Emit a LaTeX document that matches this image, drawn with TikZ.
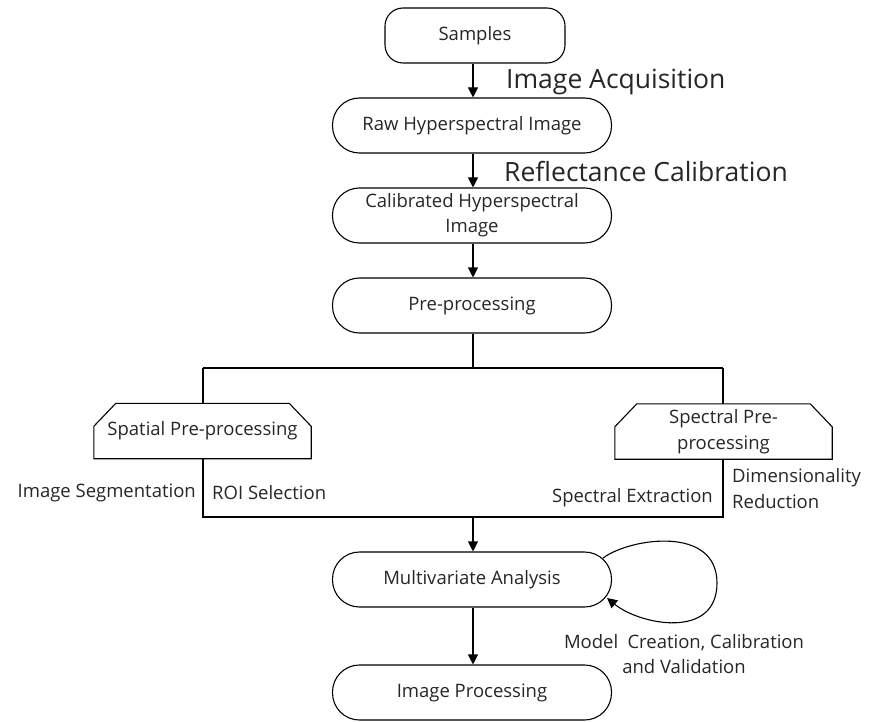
\documentclass[tikz,border=0pt]{standalone}
\usepackage{fontspec}
\setmainfont{Open Sans}
\usetikzlibrary{arrows.meta,calc}
\definecolor{ink}{HTML}{262626}
\tikzset{
  stadium/.style={draw=black, line width=1.1pt, rounded corners=27pt,
    minimum width=279pt, minimum height=55pt, align=center, text=ink,
    font=\fontsize{18.5}{25}\selectfont, inner sep=0pt},
  chambox/.style={minimum width=217pt, minimum height=55pt, align=center, text=ink,
    font=\fontsize{18.5}{26}\selectfont, inner sep=0pt},
  biglabel/.style={anchor=west, text=ink, font=\fontsize{26.5}{30}\selectfont, inner sep=0pt},
  sidelabel/.style={text=ink, font=\fontsize{18.5}{26}\selectfont, inner sep=0pt, align=left},
  link/.style={draw=black, line width=1.1pt},
  flow/.style={link, -{Triangle[length=10pt,width=10pt]}},
}
% outline with the two upper corners cut off
\newcommand{\chamferoutline}[1]{%
  \draw[link] (#1.south west) -- ($(#1.north west)+(0,23)$) -- ($(#1.north west)+(22,0)$)
    -- ($(#1.north east)+(-22,0)$) -- ($(#1.north east)+(0,23)$) -- (#1.south east) -- cycle;}
\begin{document}
\begin{tikzpicture}[x=1pt, y=-1pt]
\useasboundingbox (0,0) rectangle (870,722);

% main column of process steps
\node[stadium, rounded corners=18pt, minimum width=180pt] (samp) at (475,35.5) {Samples};
\node[stadium] (raw)  at (472,125.5) {Raw Hyperspectral Image};
\node[stadium] (cal)  at (472,215.5) {Calibrated Hyperspectral\\Image};
\node[stadium] (pre)  at (472,305.5) {Pre-processing};
\node[stadium] (mva)  at (472,579.5) {Multivariate Analysis};
\node[stadium] (imp)  at (472,692.5) {Image Processing};

% the two pre-processing branches
\node[chambox] (spa) at (202.5,431) {Spatial Pre-processing};
\node[chambox] (spe) at (723.5,431.5) {Spectral Pre-\\processing};
\chamferoutline{spa}
\chamferoutline{spe}

% step labels
\node[biglabel] (acq) at (506,82) {Image Acquisition};
\node[biglabel] (refl) at (504,171) {Reflectance Calibration};

% junction points of the branch frame
\coordinate (split) at (473,368);
\coordinate (splitL) at (203,368);
\coordinate (splitR) at (723,368);
\coordinate (joinL) at (203,517);
\coordinate (joinR) at (723,517);
\coordinate (join) at (473,517);

% connectors
\draw[flow] (samp.south -| 473,0) -- (raw.north -| 473,0);
\draw[flow] (raw.south -| 473,0) -- (cal.north -| 473,0);
\draw[flow] (cal.south -| 473,0) -- (pre.north -| 473,0);
\draw[link] (pre.south -| split) -- (split);
\draw[link] (splitL) -- (splitR);
\draw[link] (splitL) -- (spa.north -| splitL);
\draw[link] (splitR) -- (spe.north -| splitR);
\draw[link] (spa.south -| joinL) -- (joinL) -- (joinR) -- (spe.south -| joinR);
\draw[flow] (join) -- (mva.north -| join);
\draw[flow] (mva.south -| join) -- (imp.north -| join);

% feedback loop on the analysis step
\draw[flow] ($(mva.east)+(-9,-21.5)$) .. controls (630,538) and (717,525) .. (717,583)
  .. controls (717,640) and (640,625) .. ($(mva.east)+(-5,18.5)$);

% branch annotations
\node[sidelabel, anchor=east] (seg) at (196,493) {Image Segmentation};
\node[sidelabel, anchor=west] (roi) at (212,493) {ROI Selection};
\node[sidelabel, anchor=east] (sext) at (713,498) {Spectral Extraction};
\node[sidelabel, anchor=west] (dim) at (732,488.5) {Dimensionality\\Reduction};
\node[sidelabel, align=center, font=\fontsize{18.5}{25}\selectfont] (mcc) at (684,654.5) {Model\enspace Creation, Calibration\\and Validation};
\end{tikzpicture}
\end{document}
